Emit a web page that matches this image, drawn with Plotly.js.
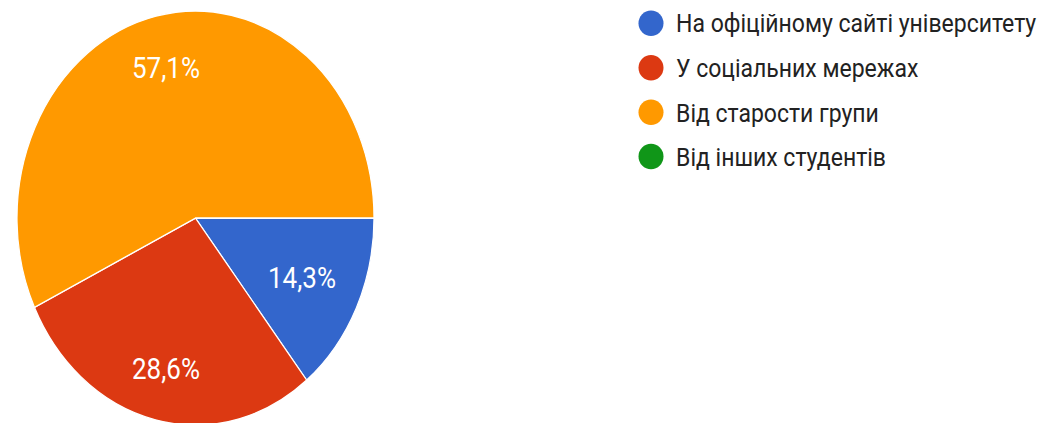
<!DOCTYPE html>
<html>
<head>
<meta charset="utf-8">
<script src="https://cdn.plot.ly/plotly-3.0.1.min.js"></script>
<style>
  html, body { margin: 0; padding: 0; background: #fff; overflow: hidden; width: 1054px; height: 423px; }
  #wrap { width: 1054px; height: 370px; transform: scaleY(1.16); transform-origin: 0 0; }
  #plot { width: 1054px; height: 370px; }
</style>
</head>
<body>
<div id="wrap"><div id="plot"></div></div>
<script>
// Data
const categories = [
  'На офіційному сайті університету',
  'У соціальних мережах',
  'Від старости групи',
  'Від інших студентів'
];
const percents = [14.3, 28.6, 57.1, 0];
const colors = ['#3366cc', '#dc3912', '#ff9900', '#109618'];

// Layout constants (unstretched px)
const W = 1054, H = 370;
const cx = 195.5, cy = 188, r = 178.5;
const legX = 651, legY0 = 20.1, legStep = 38.3, legRx = 12.5, legRy = 11, legTextX = 674;
const FONT = 'Roboto, Arial, sans-serif';

const pie = {
  type: 'pie',
  labels: categories,
  values: percents,
  sort: false,
  direction: 'clockwise',
  rotation: 90,
  marker: { colors: colors, line: { color: '#ffffff', width: 1.2 } },
  textinfo: 'none',
  hoverinfo: 'label+percent',
  showlegend: false,
  domain: {
    x: [(cx - r) / W, (cx + r) / W],
    y: [(H - cy - r) / H, (H - cy + r) / H]
  }
};

const shapes = [];
const annotations = [];

// Slice labels placed along each slice's bisector (computed from the data)
const total = percents.reduce((a, b) => a + b, 0);
let cum = 0;
percents.forEach((v, i) => {
  const start = cum / total * 360;
  cum += v;
  const end = cum / total * 360;
  if (v <= 0) return;
  const span = end - start;
  const mid = (start + end) / 2 * Math.PI / 180;
  const frac = span < 90 ? 0.66 : 0.745;
  const px = cx + r * frac * Math.cos(mid);
  const py = cy + r * frac * Math.sin(mid);
  annotations.push({
    xref: 'paper', yref: 'paper', x: px / W, y: 1 - py / H,
    xanchor: 'center', yanchor: 'middle', showarrow: false,
    text: (v / total * 100).toFixed(1).replace('.', ',') + '%',
    font: { family: FONT, size: 26, color: '#ffffff' }
  });
});

// Legend built from categories/colors
categories.forEach((c, i) => {
  const y = legY0 + i * legStep;
  shapes.push({
    type: 'circle', xref: 'paper', yref: 'paper',
    x0: (legX - legRx) / W, x1: (legX + legRx) / W,
    y0: 1 - (y + legRy) / H, y1: 1 - (y - legRy) / H,
    fillcolor: colors[i], line: { width: 0 }
  });
  annotations.push({
    xref: 'paper', yref: 'paper', x: legTextX / W, y: 1 - (y + 0.5) / H,
    xanchor: 'left', yanchor: 'middle', showarrow: false,
    text: c, font: { family: FONT, size: 23, color: '#222222' }
  });
});

const layout = {
  width: W, height: H,
  margin: { l: 0, r: 0, t: 0, b: 0 },
  paper_bgcolor: '#ffffff',
  showlegend: false,
  shapes: shapes,
  annotations: annotations
};

Plotly.newPlot('plot', [pie], layout, { displayModeBar: false, staticPlot: true });
</script>
</body>
</html>
